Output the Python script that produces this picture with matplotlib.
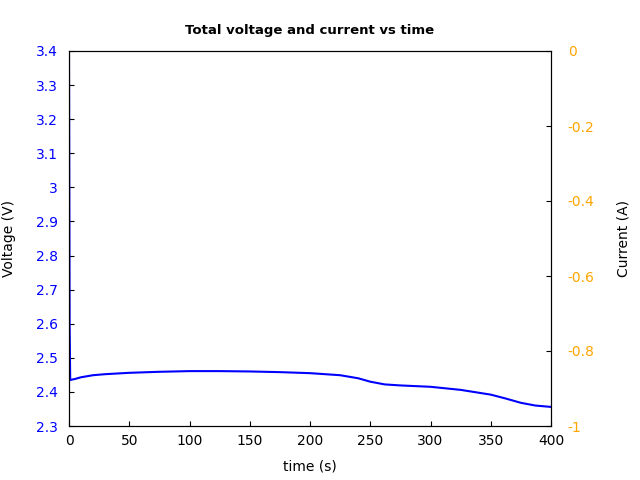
import matplotlib
matplotlib.use("Agg")
import matplotlib.pyplot as plt
from matplotlib.ticker import FuncFormatter

time_s = [0, 0.5, 1, 5, 10, 20, 30, 50, 75, 100, 125, 150, 175, 200, 225, 240, 250, 262, 275, 300, 325, 350, 362, 375, 387, 400]
voltage = [3.4, 2.6, 2.435, 2.438, 2.443, 2.449, 2.452, 2.456, 2.459, 2.461, 2.461, 2.460, 2.458, 2.455, 2.449, 2.440, 2.430, 2.422, 2.419, 2.415, 2.406, 2.392, 2.381, 2.368, 2.360, 2.356]

fig = plt.figure(figsize=(6.4, 4.8), dpi=100)
ax = fig.add_axes([69/640, 1-426/480, (551-69)/640, (426-51)/480])
ax.plot(time_s, voltage, color="blue", lw=1.5)
ax.set_xlim(0, 400)
ax.set_ylim(2.3, 3.4)
ax.set_xticks(range(0, 401, 50))
ax.set_yticks([2.3 + 0.1*i for i in range(12)])
fmt = FuncFormatter(lambda v, p: "%g" % round(v, 3))
ax.yaxis.set_major_formatter(fmt)
ax.tick_params(axis="y", direction="in", labelcolor="blue", pad=8)
ax.tick_params(axis="x", direction="in", pad=6)
ax.set_xlabel("time (s)", labelpad=8)
ax.set_ylabel("Voltage (V)", labelpad=14)
ax.set_title("Total voltage and current vs time", fontweight="bold", fontsize=9.5, pad=12)

ax2 = ax.twinx()
ax2.set_ylim(-1, 0)
ax2.set_yticks([-1, -0.8, -0.6, -0.4, -0.2, 0])
ax2.yaxis.set_major_formatter(fmt)
ax2.tick_params(axis="y", labelcolor="orange", direction="in", pad=12)
ax2.set_ylabel("Current (A)", labelpad=16)
fig.savefig("out.png", dpi=100)
